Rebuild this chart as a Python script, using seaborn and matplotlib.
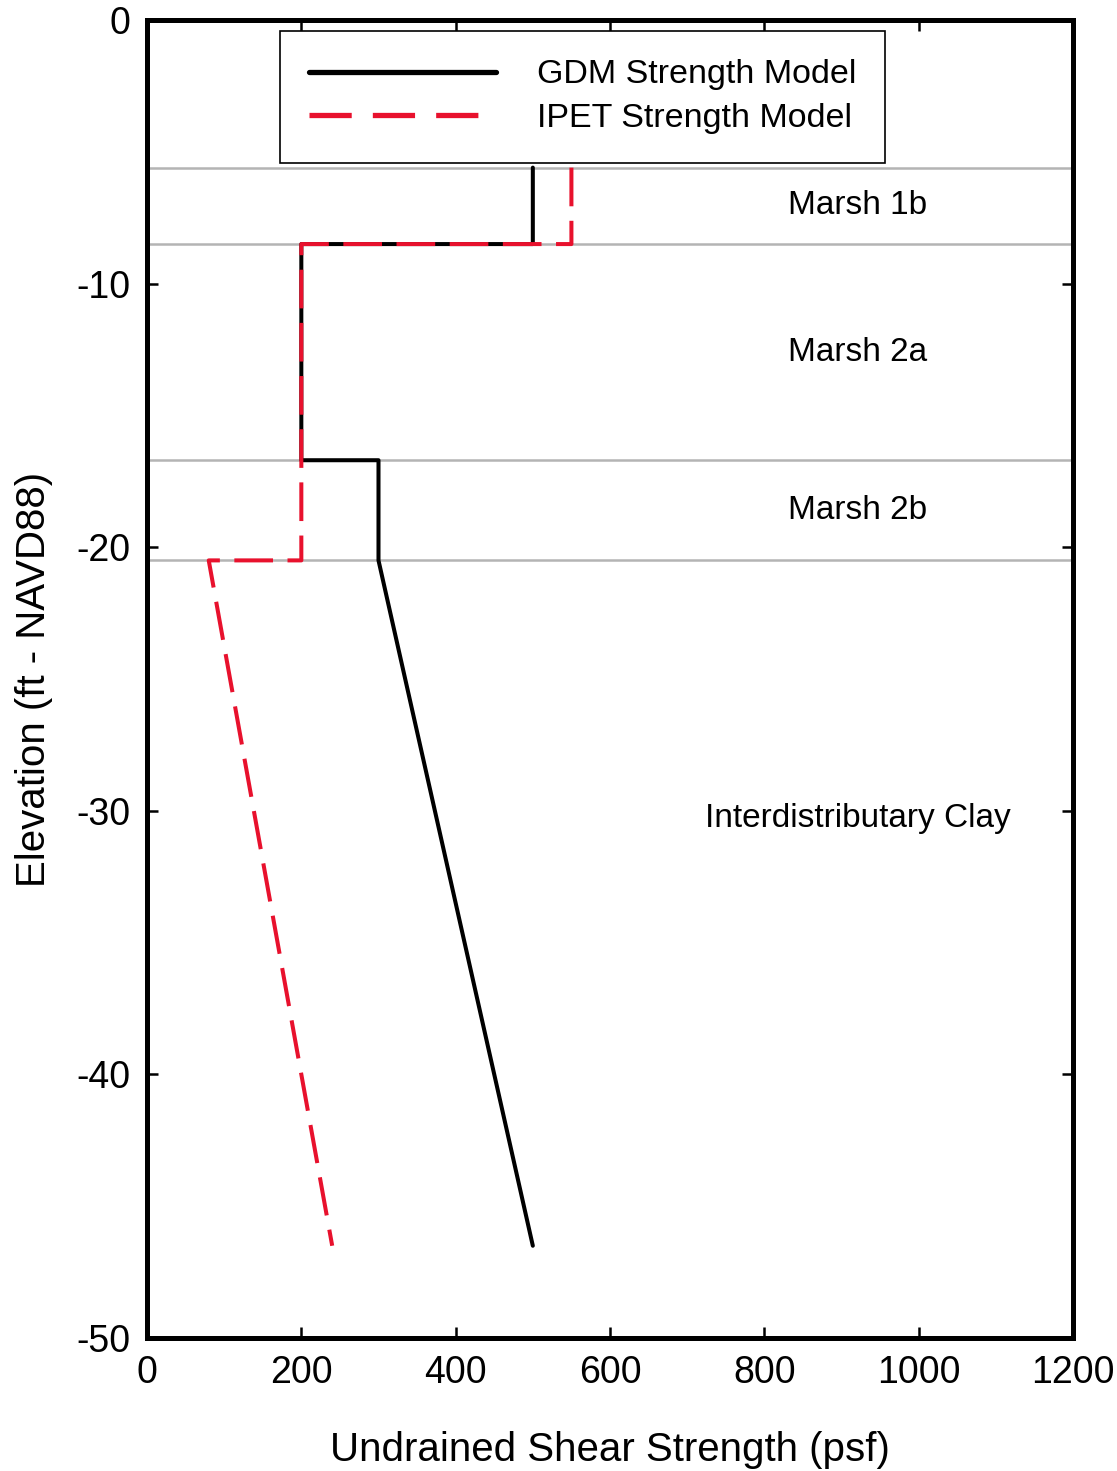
import seaborn as sns
import matplotlib.pyplot as plt
import pandas as pd

# Layer boundaries (ft, NAVD88) and labels
layer_tops = [-5.6, -8.5, -16.7, -20.5]
layer_names = ["Marsh 1b", "Marsh 2a", "Marsh 2b", "Interdistributary Clay"]
layer_label_elev = [-7.05, -12.6, -18.6, -30.3]

# GDM strength model (psf vs elevation)
gdm_su = [500, 500, 200, 200, 300, 300, 500]
gdm_elev = [-5.6, -8.5, -8.5, -16.7, -16.7, -20.5, -46.5]

# IPET strength model
ipet_su = [550, 550, 200, 200, 80, 240]
ipet_elev = [-5.6, -8.5, -8.5, -20.5, -20.5, -46.5]

x_ticks = [0, 200, 400, 600, 800, 1000, 1200]
y_ticks = [0, -10, -20, -30, -40, -50]

sns.set_style("ticks")
plt.rcParams['font.family'] = ['Liberation Sans', 'DejaVu Sans']
plt.rcParams['axes.unicode_minus'] = False
for k in ['text.color', 'axes.labelcolor', 'xtick.color', 'ytick.color', 'axes.edgecolor']:
    plt.rcParams[k] = 'black'

fig = plt.figure(figsize=(11.17, 14.71), dpi=100)
ax = fig.add_axes([0.1316, 0.0904, 0.8290, 0.8960])

# gray layer boundaries
for y in layer_tops:
    ax.axhline(y, color="#b4b4b4", lw=1.8, zorder=1)

gdm = pd.DataFrame({"su": gdm_su, "elev": gdm_elev})
ipet = pd.DataFrame({"su": ipet_su, "elev": ipet_elev})

sns.lineplot(data=gdm, x="su", y="elev", sort=False, estimator=None,
             color="black", lw=2.9, ax=ax, label="GDM Strength Model", zorder=3)
sns.lineplot(data=ipet, x="su", y="elev", sort=False, estimator=None,
             color="#e8112d", lw=2.9, ax=ax, label="IPET Strength Model", zorder=4)
ax.lines[-1].set_dashes((9.6, 3.6))

for name, y in zip(layer_names, layer_label_elev):
    ax.text(921, y, name, ha="center", va="center", fontsize=24)

ax.set_xlim(0, 1200)
ax.set_ylim(-50, 0)
ax.set_xticks(x_ticks)
ax.set_yticks(y_ticks)
ax.tick_params(direction="in", length=8, width=1.8, top=True, right=True,
               labelsize=27, pad=12)
for sp in ax.spines.values():
    sp.set_linewidth(3.6)
    sp.set_visible(True)

ax.set_xlabel("Undrained Shear Strength (psf)", fontsize=29, labelpad=29)
ax.set_ylabel("Elevation (ft - NAVD88)", fontsize=29, labelpad=17)

leg = ax.legend(loc="upper left", bbox_to_anchor=(0.1436, 0.992), fontsize=24.5,
                frameon=True, fancybox=False, framealpha=1, edgecolor="black",
                handlelength=5.5, handletextpad=1.2, borderpad=0.85,
                labelspacing=0.38, borderaxespad=0)
leg.get_frame().set_linewidth(1.2)
leg_lines = leg.get_lines()
for ln in leg_lines:
    ln.set_linewidth(3.8)
leg_lines[1].set_dashes((8.0, 4.0))

fig.savefig("out.png", dpi=100)
